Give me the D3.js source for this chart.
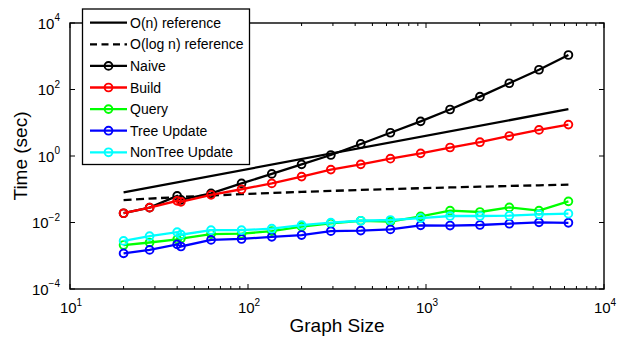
<!DOCTYPE html>
<html>
<head>
<meta charset="utf-8">
<script src="https://cdn.jsdelivr.net/npm/d3@7/dist/d3.min.js"></script>
<style>
  html, body { margin: 0; padding: 0; background: #fff; }
  svg { display: block; font-family: "Liberation Sans", Arial, sans-serif; }
</style>
</head>
<body>
<svg id="chart" width="619" height="337"></svg>
<script>
// ---- data ----
const graphSize = [20, 28, 40, 42, 62, 92, 136, 200, 292, 430, 631, 933, 1365, 2009, 2938, 4313, 6310];
const naive      = [0.019, 0.028, 0.063, 0.048, 0.075, 0.15, 0.29, 0.56, 1.07, 2.3, 5.0, 11, 25, 61, 154, 393, 1090];
const build      = [0.019, 0.028, 0.045, 0.042, 0.068, 0.10, 0.15, 0.24, 0.39, 0.56, 0.83, 1.2, 1.8, 2.6, 4.0, 6.1, 8.8];
const query      = [0.0021, 0.0025, 0.0031, 0.0033, 0.0045, 0.0046, 0.0055, 0.0075, 0.0094, 0.0113, 0.0106, 0.0153, 0.0227, 0.0207, 0.0285, 0.0227, 0.0432];
const treeUpdate = [0.00118, 0.0015, 0.0022, 0.0019, 0.0030, 0.0032, 0.0037, 0.0042, 0.0055, 0.0057, 0.0062, 0.0082, 0.0081, 0.0084, 0.0092, 0.0101, 0.0098];
const nonTreeUpdate = [0.0028, 0.0039, 0.0051, 0.0043, 0.0059, 0.0059, 0.0065, 0.0083, 0.0099, 0.0113, 0.0119, 0.0136, 0.0157, 0.0157, 0.0160, 0.0176, 0.0184];
const refNx = [20, 6310];
const refN  = [0.081, 25.6];
const refLogN = [0.047, 0.0523, 0.0579, 0.0587, 0.0648, 0.0710, 0.0771, 0.0832, 0.0891, 0.0952, 0.1012, 0.1074, 0.1133, 0.1194, 0.1254, 0.1314, 0.1374];
const xTicks = [1e1, 1e2, 1e3, 1e4];
const xTickExp = ["1", "2", "3", "4"];
const yTicks = [1e-4, 1e-2, 1e0, 1e2, 1e4];
const yTickExp = ["\u22124", "\u22122", "0", "2", "4"];
const seriesNames = ["Naive", "Build", "Query", "Tree Update", "NonTree Update"];
const seriesColors = ["#000000", "#ff0000", "#00ff00", "#0000ff", "#00ffff"];
const seriesValues = [naive, build, query, treeUpdate, nonTreeUpdate];
const xLabel = "Graph Size";
const yLabel = "Time (sec)";

// ---- layout ----
const L = 70, R = 604, T = 23, B = 289;
const svg = d3.select("#chart");
const x = d3.scaleLog().domain([10, 1e4]).range([L, R]);
const y = d3.scaleLog().domain([1e-4, 1e4]).range([B, T]);

// minor x ticks
const minorX = [];
for (let d = 10; d < 1e4; d *= 10) for (let k = 2; k <= 9; k++) minorX.push(d * k);

const axes = svg.append("g").attr("stroke", "#000").attr("stroke-width", 1);
minorX.forEach(v => {
  axes.append("line").attr("x1", x(v)).attr("x2", x(v)).attr("y1", B).attr("y2", B - 3);
  axes.append("line").attr("x1", x(v)).attr("x2", x(v)).attr("y1", T).attr("y2", T + 3);
});
xTicks.forEach(v => {
  axes.append("line").attr("x1", x(v)).attr("x2", x(v)).attr("y1", B).attr("y2", B - 5);
  axes.append("line").attr("x1", x(v)).attr("x2", x(v)).attr("y1", T).attr("y2", T + 5);
});
yTicks.forEach(v => {
  axes.append("line").attr("x1", L).attr("x2", L + 5).attr("y1", y(v)).attr("y2", y(v));
  axes.append("line").attr("x1", R).attr("x2", R - 5).attr("y1", y(v)).attr("y2", y(v));
});

// ---- series ----
const line = d3.line().x(d => x(d[0])).y(d => y(d[1]));
const plot = svg.append("g");
plot.append("path").datum(refNx.map((v, i) => [v, refN[i]]))
  .attr("d", line).attr("fill", "none").attr("stroke", "#000").attr("stroke-width", 2.3);
plot.append("path").datum(graphSize.map((v, i) => [v, refLogN[i]]))
  .attr("d", line).attr("fill", "none").attr("stroke", "#000").attr("stroke-width", 2.3)
  .attr("stroke-dasharray", "8,4.5");

seriesValues.forEach((vals, si) => {
  const pts = graphSize.map((v, i) => [v, vals[i]]);
  const g = plot.append("g");
  g.append("path").datum(pts).attr("d", line).attr("fill", "none")
    .attr("stroke", seriesColors[si]).attr("stroke-width", 2.3);
  g.selectAll("circle").data(pts).join("circle")
    .attr("cx", d => x(d[0])).attr("cy", d => y(d[1])).attr("r", 3.9)
    .attr("fill", "none").attr("stroke", seriesColors[si]).attr("stroke-width", 1.9);
});

// box
svg.append("rect").attr("x", L).attr("y", T).attr("width", R - L).attr("height", B - T)
  .attr("fill", "none").attr("stroke", "#000").attr("stroke-width", 1.4);

// ---- tick labels ----
xTicks.forEach((v, i) => {
  const t = svg.append("text").attr("x", x(v) + 1).attr("y", 313).attr("text-anchor", "middle")
    .attr("font-size", 15).attr("fill", "#000");
  t.append("tspan").text("10");
  t.append("tspan").attr("font-size", 10).attr("dy", -7.5).text(xTickExp[i]);
});
yTicks.forEach((v, i) => {
  const t = svg.append("text").attr("x", 60).attr("y", y(v) + 5.5).attr("text-anchor", "end")
    .attr("font-size", 15).attr("fill", "#000");
  t.append("tspan").text("10");
  t.append("tspan").attr("font-size", 10).attr("dy", -7.5).text(yTickExp[i]);
});

// axis titles
svg.append("text").attr("x", (L + R) / 2).attr("y", 332).attr("text-anchor", "middle")
  .attr("font-size", 19).text(xLabel);
svg.append("text").attr("transform", `translate(26.5,${(T + B) / 2}) rotate(-90)`)
  .attr("text-anchor", "middle").attr("font-size", 19).text(yLabel);

// ---- legend ----
const legendNames = ["O(n) reference", "O(log n) reference"].concat(seriesNames);
const legendColors = ["#000", "#000"].concat(seriesColors);
const lg = svg.append("g");
lg.append("rect").attr("x", 82.5).attr("y", 9).attr("width", 167).attr("height", 155.5)
  .attr("fill", "#fff").attr("stroke", "#000").attr("stroke-width", 1.3);
legendNames.forEach((name, i) => {
  const cy = 22.7 + i * 21.6;
  const l = lg.append("line").attr("x1", 90).attr("x2", 127).attr("y1", cy).attr("y2", cy)
    .attr("stroke", legendColors[i]).attr("stroke-width", 2.3);
  if (i === 1) l.attr("stroke-dasharray", "7,4.5");
  if (i >= 2) {
    lg.append("circle").attr("cx", 108.5).attr("cy", cy).attr("r", 3.9)
      .attr("fill", "none").attr("stroke", legendColors[i]).attr("stroke-width", 1.9);
  }
  lg.append("text").attr("x", 130).attr("y", cy + 5).attr("font-size", 14)
    .attr("fill", "#000").text(name);
});
</script>
</body>
</html>
